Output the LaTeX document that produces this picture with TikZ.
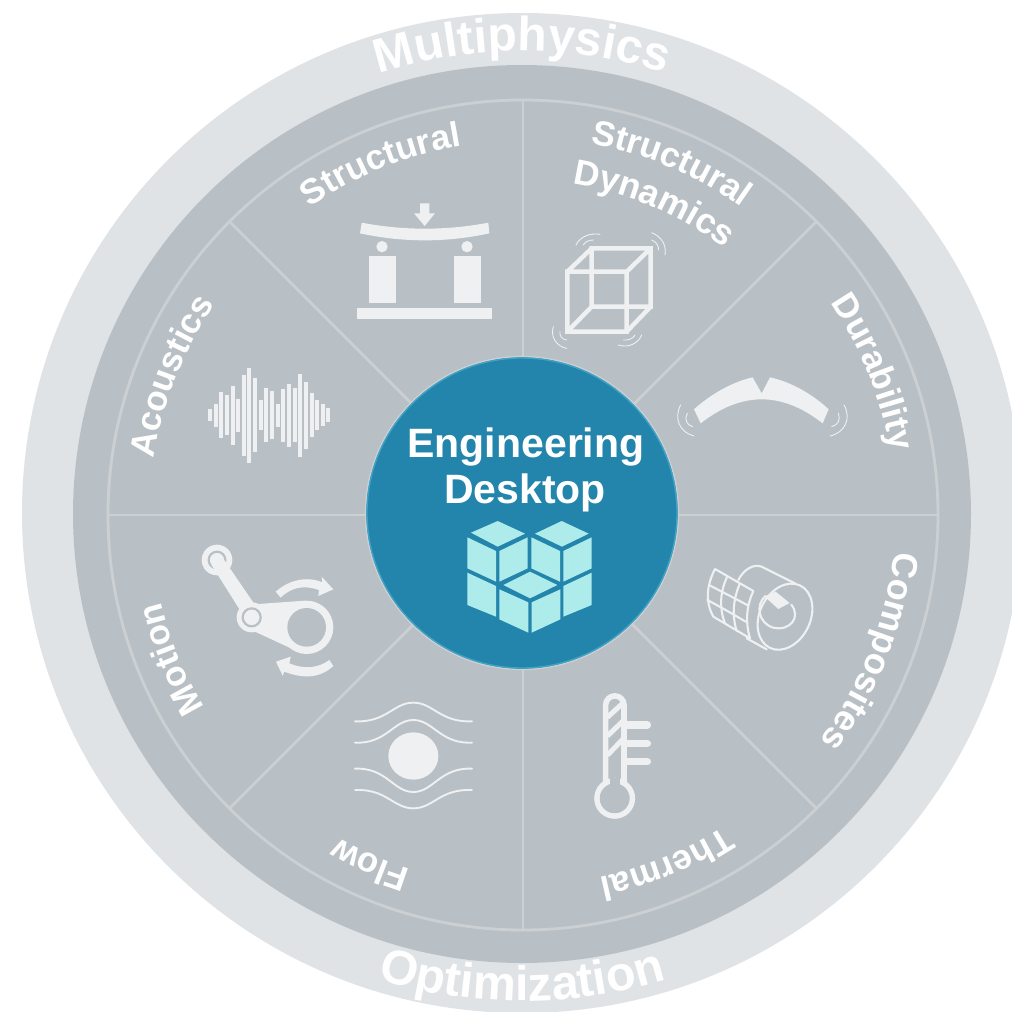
\documentclass[tikz,border=0pt]{standalone}
\usepackage{fontspec}
\setmainfont{Liberation Sans}
\usetikzlibrary{decorations.text}
\definecolor{ringout}{HTML}{E0E3E6}
\definecolor{disc}{HTML}{B9C0C5}
\definecolor{sepline}{HTML}{CCD0D3}
\definecolor{icon}{HTML}{EEF0F2}
\definecolor{hub}{HTML}{2385AB}
\definecolor{hubedge}{HTML}{3FA3C6}
\definecolor{cube}{HTML}{AEEBEB}
\newcommand{\arctext}[5]{% radius, mid angle, size, text, half span
  \path[decorate,decoration={text along path,text align=center,
    text={|\fontsize{#3}{#3}\selectfont\bfseries\color{white}|#4}}]
    (522,514) ++({#2-#5}:#1) arc[start angle={#2-#5},end angle={#2+#5},radius=#1];}
\tikzset{
  zs/.style={x=0.33333pt,y=-0.33333pt},
  iconline/.style={draw=icon,line width=#1,fill=none},
  iconline/.default=1.2pt,
  sepstyle/.style={draw=sepline,line width=2.8pt}
}
\begin{document}
\begin{tikzpicture}[x=1pt,y=-1pt]
\useasboundingbox (0,0) rectangle (1012,1012);
\clip (0,0) rectangle (1012,1012);
\fill[white] (0,0) rectangle (1012,1012);
\fill[ringout] (522,513) circle[radius=500];
\fill[disc] (522,514) circle[radius=449];
\draw[sepline,line width=2.8pt] (523,515) circle[radius=415];
\foreach \a in {0,45,...,315}{
  \draw[sepstyle] (523,515) ++(\a:150) -- ++(\a:265);
}
% hub
\fill[hub] (522,513) circle[radius=156];
\draw[hubedge,line width=1.4pt] (522,513) circle[radius=155];
\draw[sepline,line width=1.2pt] (522,513) circle[radius=156.5];
\node[anchor=base,text=white,font=\bfseries\fontsize{41}{41}\selectfont,inner sep=0pt] (eng) at (526,457) {Engineering};
\node[anchor=base,text=white,font=\bfseries\fontsize{41}{41}\selectfont,inner sep=0pt] (desk) at (525,503) {Desktop};
% cubes
\begin{scope}[shift={(360,350)},zs]
\foreach \f in {
 {(333,548)--(413,513)--(495,551)--(413,590)},
 {(525,551)--(605,513)--(686,551)--(606,590)},
 {(430,705)--(510,665)--(592,705)--(510,745)},
 {(322,562)--(408,603)--(408,695)--(322,655)},
 {(322,668)--(408,708)--(408,800)--(322,765)},
 {(418,603)--(503,562)--(503,655)--(418,695)},
 {(514,562)--(600,603)--(600,695)--(514,655)},
 {(610,603)--(695,562)--(695,655)--(610,695)},
 {(610,708)--(695,668)--(695,765)--(610,800)},
 {(418,718)--(505,757)--(505,848)--(418,808)},
 {(515,757)--(601,718)--(601,808)--(515,848)}}{
  \fill[cube] \f --cycle;
}
\end{scope}
% curved labels
\arctext{463}{-90}{48}{Multiphysics}{40}
\path[decorate,decoration={text along path,text align=center,
  text={|\fontsize{48.5}{48.5}\selectfont\bfseries\color{white}|Optimization}}]
  (522,514) ++(130:487) arc[start angle=130,end angle=50,radius=487];
\arctext{373}{-112}{35}{Structural}{44}
\arctext{377}{-67}{35}{Structural}{44}
\arctext{334}{-67}{35.5}{Dynamics}{44}
\arctext{374}{-22}{35}{Durability}{44}
\arctext{374}{21.5}{36}{Composites}{44}
\arctext{372}{67.5}{35}{Thermal}{44}
\arctext{372}{113.5}{35}{Flow}{44}
\arctext{372}{157.5}{35}{Motion}{44}
\arctext{372}{201.5}{35}{Acoustics}{44}
% beam icon
\begin{scope}[shift={(340,190)},zs]
\fill[icon] (240,40)--(268,40)--(268,70)--(285,70)--(254,108)--(222,70)--(240,70)--cycle;
\fill[icon] (65,98) .. controls (190,122) and (320,122) .. (445,98)
  -- (448,130) .. controls (320,158) and (190,158) .. (60,130) --cycle;
\fill[icon] (126,170) circle[radius=17];
\fill[icon] (381,170) circle[radius=17];
\fill[icon] (87,198) rectangle (167,340);
\fill[icon] (342,198) rectangle (422,340);
\fill[icon] (52,353) rectangle (455,388);
% wire cube
\draw[iconline=4.4pt,line join=miter]
 (682,245) rectangle (860,425)
 (755,175) rectangle (932,350)
 (682,245)--(755,175) (860,245)--(932,175) (682,425)--(755,350) (860,425)--(932,350);
\draw[iconline=0.9pt,line cap=round]
 (708,165) .. controls (720,140) and (750,128) .. (780,133)
 (730,165) .. controls (735,155) and (748,150) .. (760,150)
 (935,128) .. controls (965,140) and (980,165) .. (975,195)
 (935,150) .. controls (948,155) and (958,168) .. (955,180)
 (680,475) .. controls (650,470) and (630,440) .. (640,410)
 (680,450) .. controls (665,448) and (658,438) .. (660,425)
 (835,465) .. controls (865,475) and (895,460) .. (905,435)
 (850,450) .. controls (865,452) and (880,445) .. (885,435);
\end{scope}
% durability
\begin{scope}[shift={(670,370)},zs]
\fill[icon] (92,160) .. controls (214,64) and (336,64) .. (458,160) -- (476,118)
 .. controls (425,70) and (360,35) .. (300,22) -- (275,70) -- (248,22)
 .. controls (190,35) and (125,70) .. (72,118) --cycle;
\draw[iconline=0.9pt,line cap=round]
 (32,105) .. controls (10,145) and (30,188) .. (72,198)
 (52,130) .. controls (42,148) and (50,165) .. (68,170)
 (522,105) .. controls (545,145) and (525,188) .. (480,198)
 (505,130) .. controls (512,148) and (505,165) .. (485,170);
\end{scope}
% composites
\begin{scope}[shift={(695,555)},zs]
\draw[iconline=2.1pt,line join=round,line cap=round]
 (60,42) -- (175,108)  (175,108) .. controls (155,150) and (150,200) .. (165,250)
 (165,250) -- (55,185) (55,185) .. controls (30,140) and (35,90) .. (60,42)
 (97,64) .. controls (75,110) and (72,160) .. (90,205)
 (135,85) .. controls (115,130) and (110,180) .. (125,228)
 (42,90) .. controls (80,110) and (120,130) .. (160,152)
 (37,135) .. controls (75,155) and (115,178) .. (152,200)
 (130,75) .. controls (145,45) and (175,25) .. (200,35)
 (200,35) -- (300,85)
 (155,250) -- (215,283);
\draw[iconline=2.1pt] (270,185) ellipse[x radius=76,y radius=104,rotate=-26];
\draw[iconline=2.1pt] (212,122) .. controls (180,150) and (190,205) .. (235,218)
  .. controls (285,230) and (320,185) .. (288,148);
\fill[icon] (208,124) -- (242,110) -- (284,144) -- (250,162) -- cycle;
\end{scope}
% thermometer
\begin{scope}[shift={(570,680)},zs]
\draw[iconline=5.6pt,line join=round] (107,310) -- (107,75) arc[start angle=180,end angle=360,radius=27.5] -- (162,310);
\draw[iconline=5.6pt] (134,355) circle[radius=53];
\fill[disc] (119,295) rectangle (150,325);
\fill[disc] (134,355) circle[radius=44.6];
\draw[iconline=5pt] (112,112) -- (158,70) (112,168) -- (158,124) (112,226) -- (158,178);
\draw[iconline=7.4pt,line cap=round] (172,135) -- (232,135) (172,190) -- (232,190) (172,245) -- (232,245);
\end{scope}
% flow + motion
\begin{scope}[shift={(190,530)},zs]
\fill[icon] (670,678) ellipse[x radius=75,y radius=71];
\draw[iconline=1.9pt,line cap=round]
 (495,574) .. controls (590,578) and (610,518) .. (670,518) .. controls (730,518) and (750,578) .. (846,574)
 (495,638) .. controls (590,642) and (610,570) .. (670,570) .. controls (730,570) and (750,642) .. (846,638)
 (495,716) .. controls (590,712) and (610,786) .. (670,786) .. controls (730,786) and (750,712) .. (846,716)
 (495,780) .. controls (590,776) and (610,835) .. (670,835) .. controls (730,835) and (750,776) .. (846,780);
% crank
\fill[icon] (81,90) circle[radius=46];
\draw[disc,line width=2.2pt] (81,90) circle[radius=25];
\fill[icon] (64,104) -- (96,80) -- (212,250) -- (175,280) -- cycle;
\fill[icon] (81,90) circle[radius=16];
\fill[icon] (185,262) circle[radius=45];
\fill[icon] (350,292) circle[radius=80];
\fill[icon] (205,222) -- (345,212) -- (295,292) -- (318,362) -- (195,305) -- cycle;
\fill[disc] (350,292) circle[radius=58];
\draw[disc,line width=2.2pt] (185,262) circle[radius=27];
\fill[icon] (170,252) -- (196,240) -- (205,262) -- (180,278) -- cycle;
\fill[icon] (257,185) .. controls (290,155) and (345,135) .. (397,157) -- (395,140) -- (430,178) -- (385,198) -- (387,180)
 .. controls (345,165) and (305,170) .. (272,203) --cycle;
\fill[icon] (430,408) .. controls (390,445) and (340,447) .. (283,425) -- (278,437) -- (258,395) -- (302,380) -- (298,400)
 .. controls (340,418) and (385,415) .. (418,390) --cycle;
\end{scope}
% waveform
\begin{scope}[shift={(190,350)},zs]
\foreach \x/\t/\b in {60/178/212,77/162/230,94/127/265,111/135/255,128/107/285,145/147/245,161/75/317,178/53/340,195/85/305,212/150/240,229/113/277,246/123/267,263/162/230,280/117/275,297/102/290,314/115/277,331/72/320,348/95/297,365/130/260,382/150/240,399/163/228,415/175/215}{
  \fill[icon] (\x-6,\t) rectangle (\x+6,\b);
}
\end{scope}
\end{tikzpicture}
\end{document}
